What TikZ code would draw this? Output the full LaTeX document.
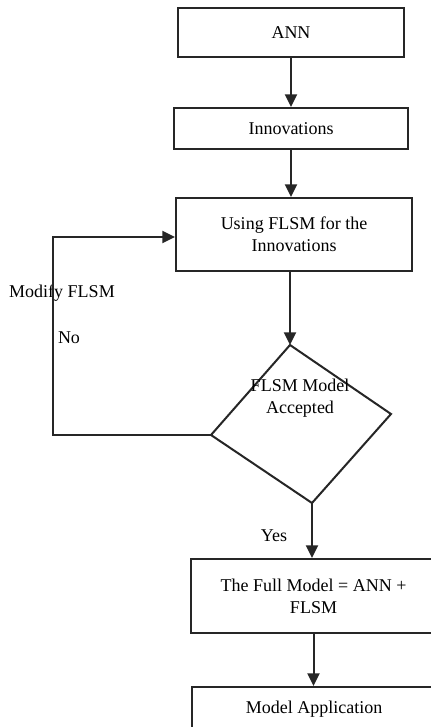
\documentclass[tikz,border=0pt]{standalone}
\usepackage{fontspec}
\setmainfont{Liberation Serif}
\usetikzlibrary{arrows.meta}
\begin{document}
\begin{tikzpicture}[x=0.75pt,y=-0.75pt,
  every node/.style={font=\fontsize{13.5}{16.5}\selectfont, align=center, inner sep=0pt},
  box/.style={draw=black!85, line width=1.5pt, rectangle},
  conn/.style={draw=black!85, line width=1.5pt},
  arr/.style={conn, -{Triangle[length=9.5pt,width=9pt]}}]
\useasboundingbox (0,0) rectangle (431,727);
\clip (0,0) rectangle (431,727);
\fill[white] (0,0) rectangle (431,727);
\node[box, minimum width=226*0.75pt, minimum height=49*0.75pt] (ann) at (291,32.5) {ANN};
\node[box, minimum width=234*0.75pt, minimum height=41*0.75pt] (inn) at (291,128.5) {Innovations};
\node[box, minimum width=236*0.75pt, minimum height=73*0.75pt] (use) at (294,234.5) {Using FLSM for the\\Innovations};
\coordinate (dt) at (290,345);
\coordinate (dr) at (391,414);
\coordinate (db) at (312,503);
\coordinate (dl) at (211,435);
\draw[conn] (dt) -- (dr) -- (db) -- (dl) -- cycle;
\node (dtext) at (300,398) {FLSM Model\\Accepted};
\node[box, minimum width=245*0.75pt, minimum height=74*0.75pt] (full) at (313.5,596) {The Full Model = ANN +\\FLSM};
\node[box, minimum width=244*0.75pt, minimum height=44*0.75pt] (app) at (314,709) {Model Application};
\coordinate (lb) at (53,435);
\coordinate (lt) at (53,237);
\node (mod) at (62,293) {Modify FLSM};
\node (no) at (69,338) {No};
\node (yes) at (274,536) {Yes};
\draw[arr] (ann.south) -- (inn.north);
\draw[arr] (inn.south) -- (inn.south |- use.north);
\draw[arr] (use.south -| dt) -- (dt);
\draw[arr] (dl) -- (lb) -- (lt) -- (lt -| use.west);
\draw[arr] (db) -- (db |- full.north);
\draw[arr] (full.south) -- (full.south |- app.north);
\end{tikzpicture}
\end{document}
